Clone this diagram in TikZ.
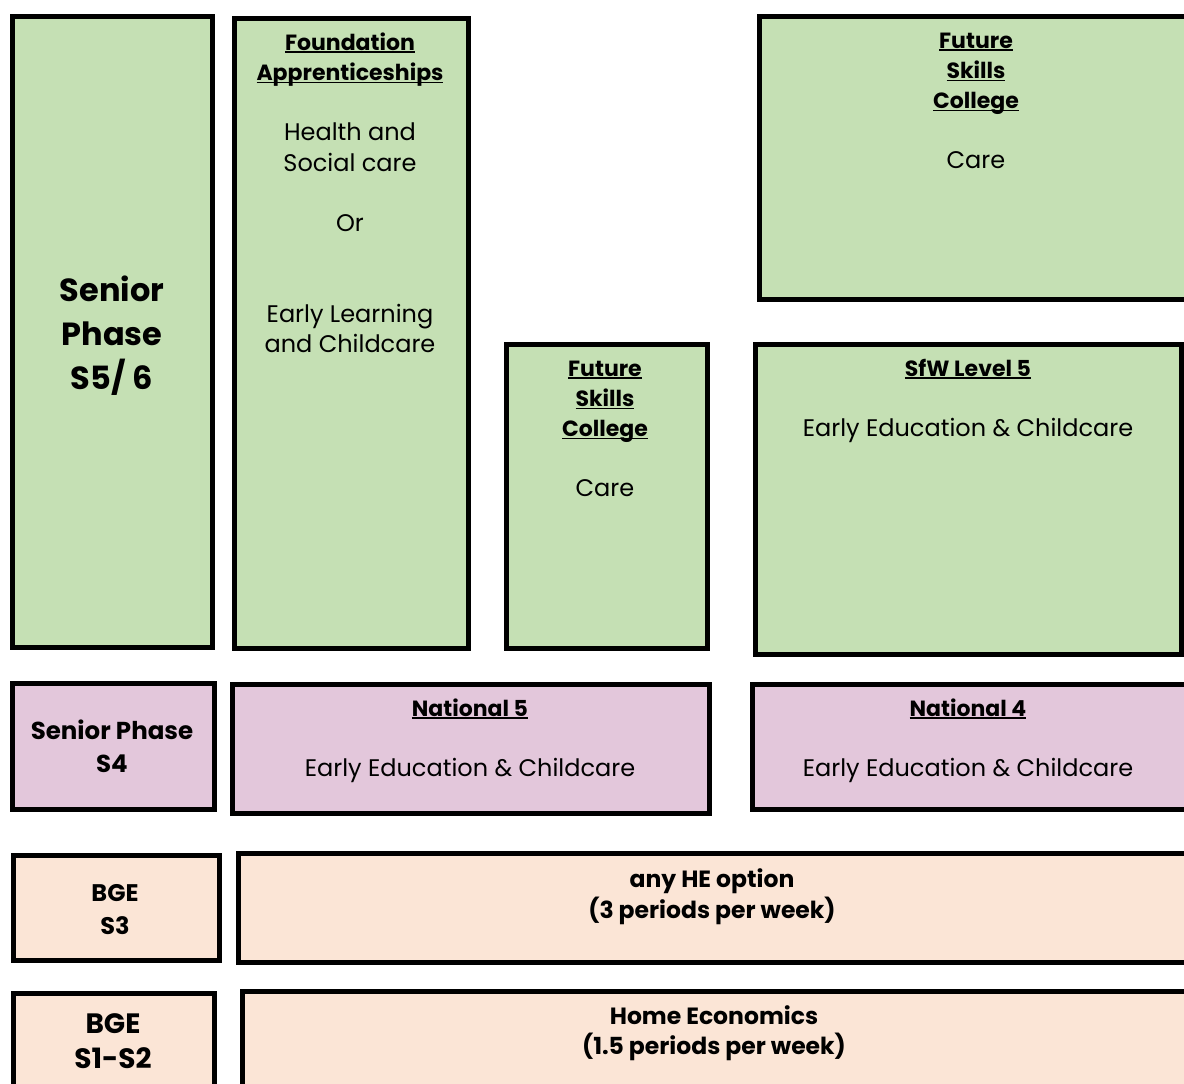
\documentclass[tikz,border=0pt]{standalone}
\usepackage{fontspec}
\setmainfont{Poppins}
\usetikzlibrary{fit}
\definecolor{gfill}{HTML}{C5E0B4}
\definecolor{pfill}{HTML}{E3C7DB}
\definecolor{ofill}{HTML}{FBE5D6}
\newcommand\fl{\rule{0pt}{24pt}}
\newcommand\ulx[1]{\setbox0\hbox{#1}\rlap{\rule[-2.8pt]{\wd0}{1.6pt}}\box0}
\newcommand\ttl[1]{{\fontsize{22}{30.2}\selectfont\bfseries\ulx{#1}}}
\tikzset{
  box/.style={draw=black, line width=5pt, inner sep=0pt},
  gbox/.style={box, fill=gfill},
  pbox/.style={box, fill=pfill},
  obox/.style={box, fill=ofill},
  txt/.style={anchor=north, inner sep=0pt, align=center, text=black},
  body/.style={txt, font=\fontsize{24}{30.2}\selectfont},
}
\begin{document}
\begin{tikzpicture}[x=1pt,y=-1pt]
\useasboundingbox (0,0) rectangle (1184,1084);
\clip (0,0) rectangle (1184,1084);
% boxes
\node[gbox, fit={(12,16) (212,647)}] (sp56) {};
\node[gbox, fit={(234,18) (468,648)}] (fa) {};
\node[gbox, fit={(759,16) (1195,299)}] (fsc1) {};
\node[gbox, fit={(506,344) (707,648)}] (fsc2) {};
\node[gbox, fit={(755,344) (1181,654)}] (sfw) {};
\node[pbox, fit={(12,683) (214,809)}] (sp4) {};
\node[pbox, fit={(232,684) (709,813)}] (n5) {};
\node[pbox, fit={(752,684) (1195,809)}] (n4) {};
\node[obox, fit={(13,855) (219,960)}] (bge3) {};
\node[obox, fit={(238,853) (1195,962)}] (he) {};
\node[obox, fit={(13,993) (214,1110)}] (bge12) {};
\node[obox, fit={(242,991) (1195,1110)}] (home) {};
% texts
\node[txt, font=\fontsize{32}{44}\selectfont\bfseries] (sp56t) at (112,276) {\fl Senior\\Phase\\S5/ 6};
\node[body] (fat) at (350,26) {\fl\ttl{Foundation}\\\ttl{Apprenticeships}\\[30.2pt]Health and\\Social care\\[30.2pt]Or\\[60.4pt]Early Learning\\and Childcare};
\node[body] (fsc1t) at (976,24) {\fl\ttl{Future}\\\ttl{Skills}\\\ttl{College}\\[30pt]Care};
\node[body] (fsc2t) at (605,352) {\fl\ttl{Future}\\\ttl{Skills}\\\ttl{College}\\[30pt]Care};
\node[body] (sfwt) at (968,352) {\fl\ttl{SfW Level 5}\\[30pt]Early Education \& Childcare};
\node[txt, font=\fontsize{24.5}{33}\selectfont\bfseries] (sp4t) at (112,715) {\fl Senior Phase\\S4};
\node[body] (n5t) at (470,692) {\fl\ttl{National 5}\\[30.5pt]Early Education \& Childcare};
\node[body] (n4t) at (968,692) {\fl\ttl{National 4}\\[30.5pt]Early Education \& Childcare};
\node[txt, font=\fontsize{24}{33}\selectfont\bfseries] (bge3t) at (115,877) {\fl BGE\\S3};
\node[txt, font=\fontsize{23.5}{31}\selectfont\bfseries] (het) at (712,863) {\fl any HE option\\(3 periods per week)};
\node[txt, font=\fontsize{28}{35}\selectfont\bfseries] (bge12t) at (113,1009) {\fl BGE\\S1-S2};
\node[txt, font=\fontsize{23.5}{30}\selectfont\bfseries] (homet) at (714,1000) {\fl Home Economics\\(1.5 periods per week)};
\end{tikzpicture}
\end{document}
